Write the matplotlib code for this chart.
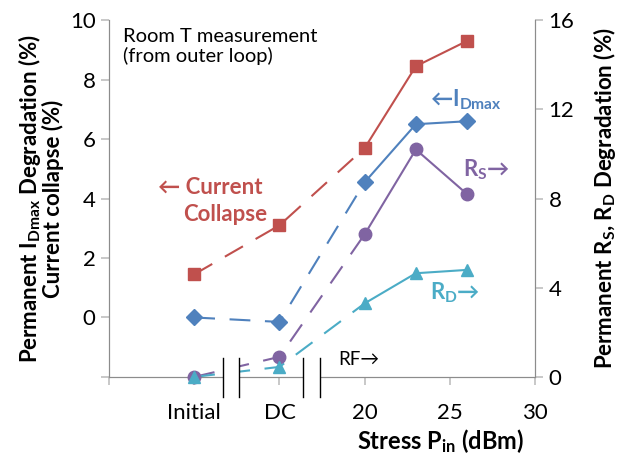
import matplotlib.pyplot as plt
from matplotlib.patches import Rectangle

plt.rcParams['font.family'] = ['Lato', 'DejaVu Sans']
plt.rcParams['mathtext.default'] = 'regular'

# x positions: 10 = initial, 15 = after DC stress, then RF input power (dBm)
stress_x = [10, 15, 20, 23, 26]
xtick_pos = [5, 10, 15, 20, 25, 30]
xtick_labels = ['', 'Initial', 'DC', '20', '25', '30']

# left axis (%)
current_collapse = [1.45, 3.1, 5.7, 8.45, 9.3]
idmax_degr = [0.0, -0.15, 4.55, 6.5, 6.6]
# right axis (%)
rs_degr = [0.0, 0.9, 6.4, 10.2, 8.2]
rd_degr = [0.0, 0.45, 3.3, 4.65, 4.8]

red = '#C0504D'
blue = '#4F81BD'
purple = '#8064A2'
cyan = '#4BACC6'
axis_grey = '#8C8C8C'

dash = (0, (10, 7))


def draw_series(ax, y, color, marker, ms):
    # DC part dashed, RF sweep solid
    ax.plot(stress_x[:3], y[:3], color=color, lw=1.5, ls=dash, clip_on=False)
    ax.plot(stress_x[2:], y[2:], color=color, lw=1.5, clip_on=False)
    ax.plot(stress_x, y, ls='none', marker=marker, ms=ms, color=color,
            clip_on=False, zorder=4)


fig = plt.figure(figsize=(6.26, 4.58), dpi=100)
ax = fig.add_axes([0.174, 0.177, 0.681, 0.779])
ax2 = ax.twinx()

draw_series(ax, current_collapse, red, 's', 9)
draw_series(ax, idmax_degr, blue, 'D', 8)
draw_series(ax2, rs_degr, purple, 'o', 9)
draw_series(ax2, rd_degr, cyan, '^', 9)

ax.set_xlim(5, 30)
ax.set_ylim(-2, 10)
ax.set_yticks([-2, 0, 2, 4, 6, 8, 10])
ax.set_yticklabels(['', '0', '2', '4', '6', '8', '10'])
ax2.set_ylim(0, 16)
ax2.set_yticks([0, 4, 8, 12, 16])
ax.set_xticks(xtick_pos)
ax.set_xticklabels(xtick_labels)

for a in (ax, ax2):
    a.spines['top'].set_visible(False)
    for s in ('left', 'right', 'bottom'):
        a.spines[s].set_color(axis_grey)
    a.tick_params(colors='#BFBFBF', labelcolor='black', labelsize=16,
                  length=6, width=1.2)
ax.tick_params(axis='x', pad=13)

ax.set_ylabel('Permanent I$_{Dmax}$ Degradation (%)\nCurrent collapse (%)',
              fontsize=16, fontweight='bold', linespacing=0.95, labelpad=4)
ax2.set_ylabel('Permanent R$_S$, R$_D$ Degradation (%)',
               fontsize=16, fontweight='bold', labelpad=12)
ax.set_xlabel('Stress P$_{in}$ (dBm)', fontsize=17, fontweight='bold')
ax.xaxis.set_label_coords(0.777, -0.14)

# axis breaks between Initial / DC / RF
for x0, x1 in [(11.67, 12.64), (16.38, 17.38)]:
    ax2.add_patch(Rectangle((x0, -0.056), x1 - x0, 0.109, facecolor='white',
                            edgecolor='none', transform=ax2.get_xaxis_transform(),
                            clip_on=False, zorder=6))
    for xb in (x0, x1):
        ax2.plot([xb, xb], [-0.056, 0.053], color='black', lw=1,
                 transform=ax2.get_xaxis_transform(), clip_on=False, zorder=7)

tr = ax.transAxes
ax.text(0.033, 0.978, 'Room T measurement\n(from outer loop)', transform=tr,
        ha='left', va='top', fontsize=14.5, linespacing=1.1)
ax.text(0.115, 0.532, '\u2190 Current', transform=tr, color=red,
        fontsize=16, fontweight='bold', va='center')
ax.text(0.173, 0.455, 'Collapse', transform=tr, color=red,
        fontsize=16, fontweight='bold', va='center')
ax.text(0.753, 0.776, '\u2190I$_{Dmax}$', transform=tr, color=blue,
        fontsize=16, fontweight='bold', va='center')
ax.text(0.831, 0.580, 'R$_S$\u2192', transform=tr, color=purple,
        fontsize=16, fontweight='bold', va='center')
ax.text(0.753, 0.235, 'R$_D$\u2192', transform=tr, color=cyan,
        fontsize=16, fontweight='bold', va='center')
ax.text(0.538, 0.050, 'RF\u2192', transform=tr, fontsize=13.5, va='center')

fig.savefig('out.png', dpi=100)
